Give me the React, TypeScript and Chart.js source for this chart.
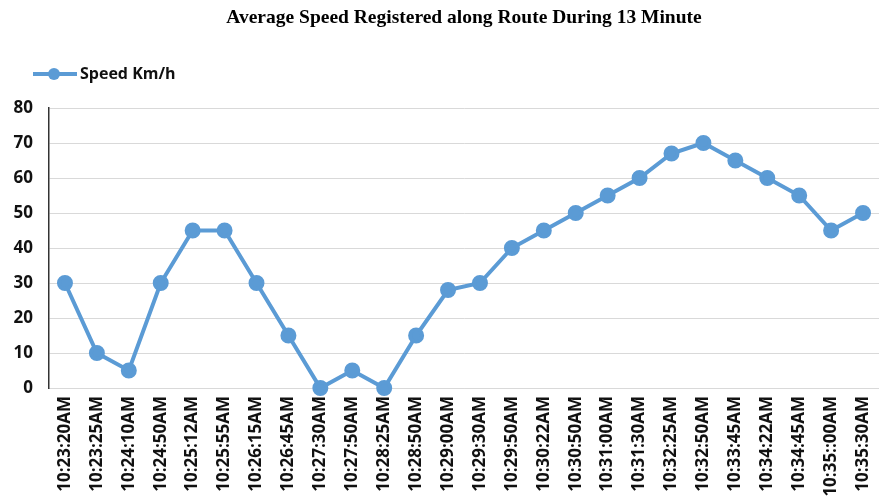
import React, { useEffect, useRef } from "react";
import { Chart, registerables } from "chart.js";

Chart.register(...registerables);

const titleText = "Average Speed Registered along Route During 13 Minute";
const seriesName = "Speed Km/h";
const categories = [
  "10:23:20AM", "10:23:25AM", "10:24:10AM", "10:24:50AM", "10:25:12AM", "10:25:55AM",
  "10:26:15AM", "10:26:45AM", "10:27:30AM", "10:27:50AM", "10:28:25AM", "10:28:50AM",
  "10:29:00AM", "10:29:30AM", "10:29:50AM", "10:30:22AM", "10:30:50AM", "10:31:00AM",
  "10:31:30AM", "10:32:25AM", "10:32:50AM", "10:33:45AM", "10:34:22AM", "10:34:45AM",
  "10:35::00AM", "10:35:30AM",
];
const speeds = [30, 10, 5, 30, 45, 45, 30, 15, 0, 5, 0, 15, 28, 30, 40, 45, 50, 55, 60, 67, 70, 65, 60, 55, 45, 50];
const yTicks = [0, 10, 20, 30, 40, 50, 60, 70, 80];

const COLOR = "#5B9BD5";

const overlay = {
  id: "overlay",
  afterDraw(chart: any) {
    const { ctx, chartArea } = chart;
    ctx.save();
    // title
    ctx.fillStyle = "#000";
    ctx.font = "bold 19.5px 'Liberation Serif', 'Times New Roman', serif";
    ctx.textAlign = "center";
    ctx.textBaseline = "middle";
    ctx.fillText(titleText, (chartArea.left + chartArea.right) / 2, 18);
    // legend
    const ly = 74;
    ctx.strokeStyle = COLOR;
    ctx.lineWidth = 4;
    ctx.beginPath();
    ctx.moveTo(33, ly);
    ctx.lineTo(77, ly);
    ctx.stroke();
    ctx.fillStyle = COLOR;
    ctx.beginPath();
    ctx.arc(54, ly, 6, 0, Math.PI * 2);
    ctx.fill();
    ctx.fillStyle = "#111";
    ctx.font = "bold 16px 'Open Sans', sans-serif";
    ctx.textAlign = "left";
    ctx.fillText(seriesName, 80, ly);
    ctx.restore();
  },
};

export default function App() {
  const ref = useRef<HTMLCanvasElement>(null);
  useEffect(() => {
    const chart = new Chart(ref.current!, {
      type: "line",
      data: {
        labels: categories,
        datasets: [
          {
            label: seriesName,
            data: speeds,
            borderColor: COLOR,
            backgroundColor: COLOR,
            borderWidth: 4,
            pointRadius: 6,
            pointBackgroundColor: COLOR,
            pointBorderColor: COLOR,
            tension: 0,
            clip: false as any,
          },
        ],
      },
      options: {
        animation: false,
        responsive: false,
        layout: { padding: { top: 108, left: 0, right: 0, bottom: 0 } },
        plugins: { legend: { display: false }, title: { display: false }, tooltip: { enabled: false } },
        scales: {
          x: {
            offset: true,
            grid: { display: false, drawTicks: false },
            border: { display: true, color: "#d9d9d9", width: 1 },
            ticks: {
              autoSkip: false,
              maxRotation: 90,
              minRotation: 90,
              padding: 8,
              color: "#111",
              font: { family: "'Open Sans', sans-serif", weight: "bold", size: 17 },
            },
            afterFit(scale: any) {
              scale.height = 113;
              scale.paddingLeft = 0;
              scale.paddingRight = 0;
            },
          },
          y: {
            min: 0,
            max: 80,
            afterBuildTicks(scale: any) {
              scale.ticks = yTicks.map((v) => ({ value: v }));
            },
            grid: { color: "#d9d9d9", lineWidth: 1, drawTicks: false },
            border: { display: true, color: "#333", width: 1.5 },
            ticks: {
              padding: 16,
              color: "#111",
              font: { family: "'Open Sans', sans-serif", weight: "bold", size: 17 },
            },
            afterFit(scale: any) {
              scale.width = 49;
            },
          },
        },
      },
      plugins: [overlay],
    });
    return () => chart.destroy();
  }, []);
  return (
    <div style={{ position: "fixed", left: 0, top: 0, width: 879, height: 501, background: "#fff", overflow: "hidden" }}>
      <canvas ref={ref} width={889} height={501} style={{ display: "block" }} />
    </div>
  );
}
